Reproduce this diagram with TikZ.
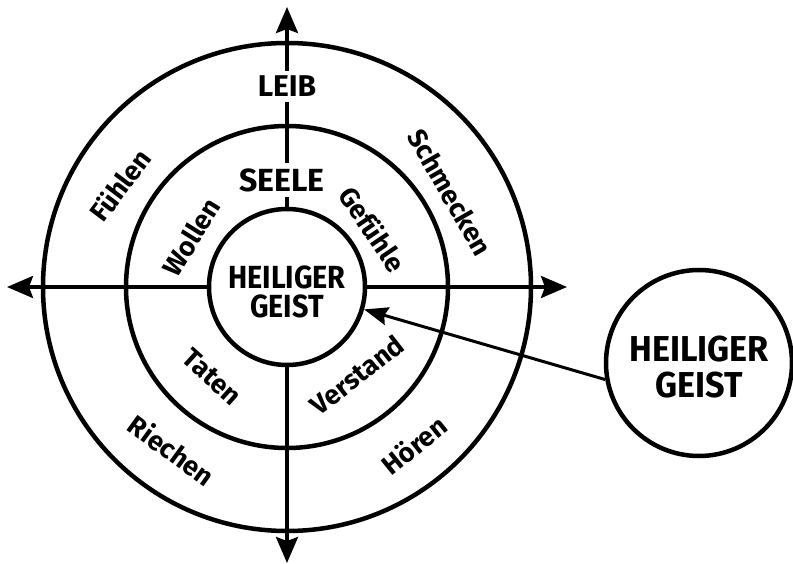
\documentclass[tikz,border=0pt]{standalone}
\usepackage{fontspec}
\setmainfont{Fira Sans}
\newfontfamily\condfont{Fira Sans}[FakeStretch=0.9]
\newfontfamily\rcfont{Fira Sans}[FakeStretch=0.95]
\usetikzlibrary{arrows.meta}
\begin{document}
\begin{tikzpicture}[x=1pt,y=-1pt,
  ring/.style={circle, draw, line width=4.5pt, inner sep=0pt},
  axis/.style={line width=3.5pt},
  lbl/.style={font=\fontsize{27}{27}\selectfont\bfseries, inner sep=0pt},
  caplbl/.style={font=\fontsize{30}{30}\selectfont\bfseries, fill=white, inner sep=5pt},
  hgtext/.style={align=center, inner sep=0pt}]
\useasboundingbox (0,0) rectangle (793,564);
\coordinate (c) at (287,287);
\coordinate (tn) at (287,7);
\coordinate (ts) at (287,563);
\coordinate (tw) at (7,287);
\coordinate (te) at (567,287);
\draw[axis, {Stealth[length=26pt,width=22pt,inset=4pt]}-{Stealth[length=26pt,width=22pt,inset=4pt]}] (tn) -- (ts);
\draw[axis, {Stealth[length=26pt,width=22pt,inset=4pt]}-{Stealth[length=26pt,width=22pt,inset=4pt]}] (tw) -- (te);
\node[ring, minimum size=488pt] (leib) at (c) {};
\node[ring, minimum size=322pt] (seele) at (c) {};
\node[ring, minimum size=156pt, fill=white] (hg) at (c) {};
\node[hgtext, font=\condfont\bfseries\fontsize{32}{29}\selectfont] (hgt) at (287,291.5) {HEILIGER\\GEIST};
\node[ring, minimum size=186pt] (rc) at (699,363) {};
\node[hgtext, font=\rcfont\bfseries\fontsize{36}{36}\selectfont] (rct) at (699,367.5) {HEILIGER\\GEIST};
\draw[line width=3pt, -{Stealth[length=24pt,width=18pt,inset=3pt]}] (rc.190) -- (hg);
\node[caplbl] (leibt) at (287,86.5) {LEIB};
\node[caplbl, font=\fontsize{32}{32}\selectfont\bfseries] (seelet) at (282,180) {SEELE};
\node[lbl, rotate=53] (fuehlen) at (120,185) {Fühlen};
\node[lbl, rotate=58] (wollen) at (191,237) {Wollen};
\node[lbl, rotate=-56] (gefuehle) at (373,229) {Gefühle};
\node[lbl, rotate=-60] (schmecken) at (450,192) {Schmecken};
\node[lbl, rotate=-42] (taten) at (212,377) {Taten};
\node[lbl, rotate=-36] (riechen) at (172,450) {Riechen};
\node[lbl, rotate=38] (verstand) at (357,375) {Verstand};
\node[lbl, rotate=39] (hoeren) at (414,445) {Hören};
\end{tikzpicture}
\end{document}
